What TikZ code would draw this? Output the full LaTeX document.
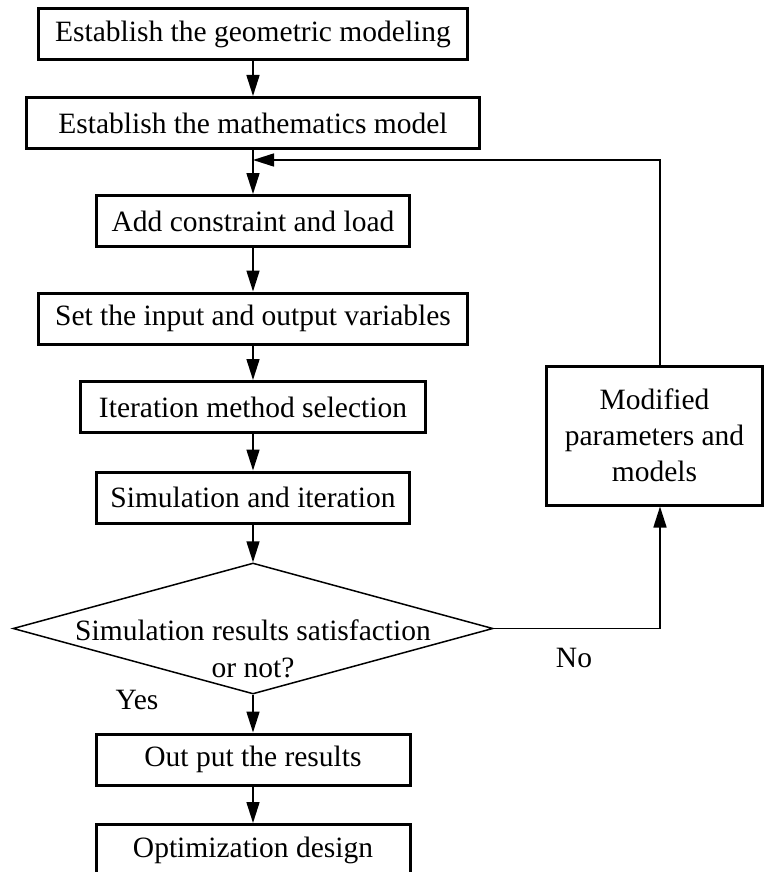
\documentclass[tikz,border=0pt]{standalone}
\usepackage{fontspec}
\setmainfont{Liberation Serif}
\usetikzlibrary{shapes.geometric,arrows.meta}

\tikzset{
  procbox/.style={draw,line width=3pt,minimum height=51pt,inner sep=0pt,
    font=\fontsize{29.5}{36}\selectfont},
  decision/.style={diamond,draw,line width=1.5pt,minimum width=480pt,
    minimum height=131pt,inner sep=0pt},
  flow/.style={line width=1.6pt,-{Triangle[length=21pt,width=13pt]}},
  tag/.style={inner sep=0pt,font=\fontsize{29.5}{37}\selectfont}
}

\begin{document}
\begin{tikzpicture}[x=1pt,y=-1pt]
  \useasboundingbox (0,0) rectangle (765,872);
  % main column
  \node[procbox,minimum width=429pt] (geo) at (253,34) {Establish the geometric modeling};
  \node[procbox,minimum width=453pt] (math) at (253,123) {Establish the mathematics model};
  \node[procbox,minimum width=313pt] (load) at (253,221) {Add constraint and load};
  \node[procbox,minimum width=429pt] (vars) at (253,318.5) {Set the input and output variables};
  \node[procbox,minimum width=345pt] (iter) at (253,407) {Iteration method selection};
  \node[procbox,minimum width=313pt] (sim) at (253,497.5) {Simulation and iteration};
  \node[decision] (chk) at (253,628.5) {};
  \node[tag,align=center] (chktxt) at (253,649) {Simulation results satisfaction\\or not?};
  \node[procbox,minimum width=314pt] (out) at (253,759.5) {Out put the results};
  \node[procbox,minimum width=314pt] (opt) at (253,850) {Optimization design};
  % feedback branch
  \node[procbox,minimum width=216pt,minimum height=139pt,align=center] (mod) at (654.5,435.5)
    {Modified\\parameters and\\models};
  \coordinate (join) at (253,160);
  \node[tag] (yes) at (137,700) {Yes};
  \node[tag] (no) at (574,658) {No};

  \draw[flow] (geo) -- (math);
  \draw[flow] (math) -- (load);
  \draw[flow] (load) -- (vars);
  \draw[flow] (vars) -- (iter);
  \draw[flow] (iter) -- (sim);
  \draw[flow] (sim) -- (chk.north);
  \draw[flow] (chk.south) -- (out);
  \draw[flow] (out) -- (opt);
  \draw[flow] (chk.east) -| ([xshift=5.5pt]mod.south);
  \draw[flow] ([xshift=5.5pt]mod.north) |- (join);
\end{tikzpicture}
\end{document}
